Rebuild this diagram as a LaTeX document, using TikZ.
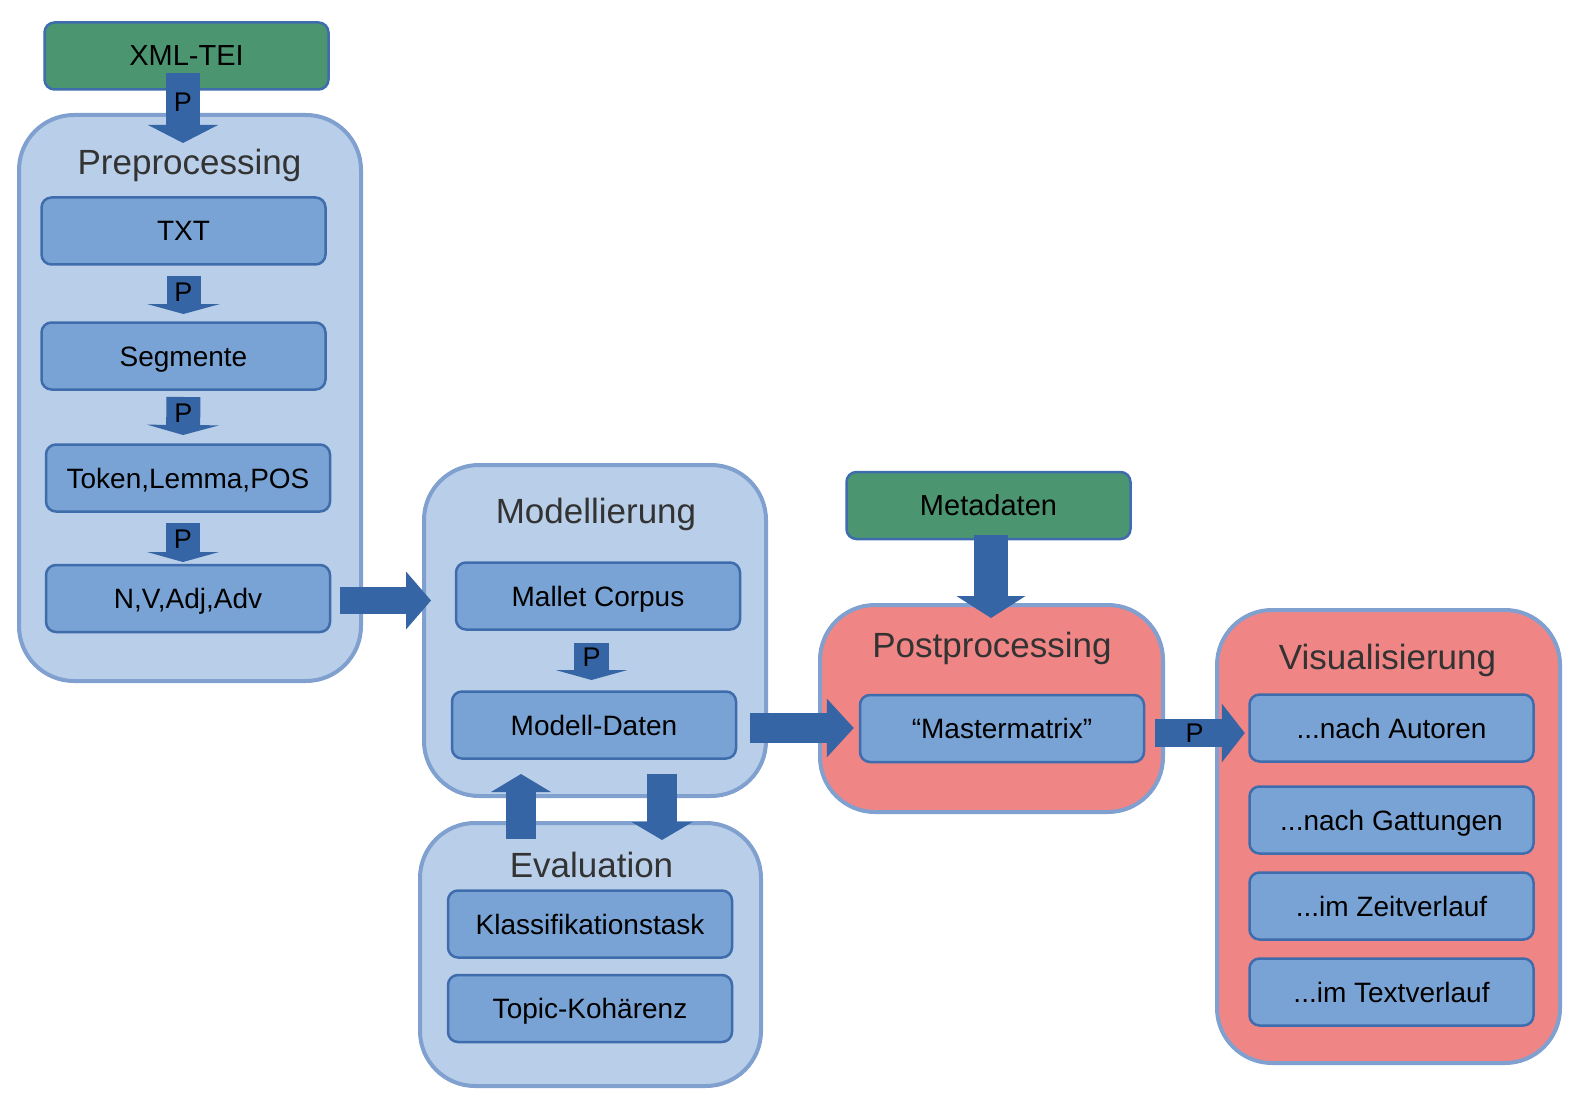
\documentclass[tikz,border=0pt]{standalone}
\usepackage{fontspec}
\setmainfont{Liberation Sans}
\usetikzlibrary{arrows.meta}

\definecolor{stageblue}{RGB}{185,206,232}
\definecolor{stagered}{RGB}{240,133,133}
\definecolor{stageline}{RGB}{128,160,208}
\definecolor{boxblue}{RGB}{121,163,212}
\definecolor{boxline}{RGB}{63,108,172}
\definecolor{sourcegreen}{RGB}{76,149,113}
\definecolor{arrowblue}{RGB}{53,101,165}
\definecolor{titlegray}{RGB}{51,51,51}

\tikzset{
    stage/.style={draw=stageline, line width=4pt, rounded corners=55pt, fill=stageblue,
        minimum width=342pt, inner sep=0pt},
    stagetitle/.style={anchor=base, text=titlegray, inner sep=0pt, font=\fontsize{35}{42}\selectfont},
    item/.style={draw=boxline, line width=2.5pt, rounded corners=10pt, fill=boxblue,
        minimum width=284pt, minimum height=67pt, inner sep=0pt,
        text height=20pt, text depth=0pt, font=\fontsize{28}{34}\selectfont},
    source/.style={item, fill=sourcegreen, font=\fontsize{29}{35}\selectfont},
    fat/.style n args={3}{draw=arrowblue, line width=#1,
        arrows={-Triangle[width=#2, length=#3, line width=0pt]}},
    plabel/.style={inner sep=0pt, font=\fontsize{27}{32}\selectfont}
}

\begin{document}
\begin{tikzpicture}[x=1pt,y=-1pt]
        \useasboundingbox (0,0) rectangle (1583,1110);

        % stages
        \node[stage, minimum height=566pt] (pre) at (190,398) {};
        \node[stage, minimum height=331pt] (mod) at (595,630.5) {};
        \node[stage, minimum height=263pt, minimum width=341pt] (eva) at (590.5,954.5) {};
        \node[stage, fill=stagered, minimum height=207pt, minimum width=343pt] (post) at (991.5,708.5) {};
        \node[stage, fill=stagered, minimum height=453pt, minimum width=343pt] (vis) at (1388.5,836.5) {};

        \node[stagetitle] (pretitle) at (189.5,175) {Preprocessing};
        \node[stagetitle] (modtitle) at (596,523) {Modellierung};
        \node[stagetitle] (evatitle) at (591.5,877) {Evaluation};
        \node[stagetitle] (posttitle) at (992,657) {Postprocessing};
        \node[stagetitle] (vistitle) at (1387.5,669) {Visualisierung};

        % sources
        \node[source] (xml) at (186.5,56) {XML-TEI};
        \node[source] (meta) at (988.5,505.5) {Metadaten};

        % items
        \node[item] (txt) at (183.5,231) {TXT};
        \node[item] (seg) at (183.5,356) {Segmente};
        \node[item] (tok) at (188,478) {Token,Lemma,POS};
        \node[item] (nva) at (188,598.5) {N,V,Adj,Adv};

        \node[item] (mallet) at (598,596) {Mallet Corpus};
        \node[item] (daten) at (594,725) {Modell-Daten};

        \node[item] (klass) at (590,924) {Klassifikationstask};
        \node[item] (topic) at (590,1008.5) {Topic-Kohärenz};

        \node[item] (master) at (1002,728.5) {“Mastermatrix”};

        \node[item] (aut) at (1391.5,728) {...nach Autoren};
        \node[item] (gat) at (1391.5,820) {...nach Gattungen};
        \node[item] (zeit) at (1391.5,906) {...im Zeitverlauf};
        \node[item] (textv) at (1391.5,992) {...im Textverlauf};

        % arrows
        \draw[fat={34pt}{70pt}{18pt}, shorten <=-17.75pt, shorten >=-30pt]
            ([xshift=-3.5pt]xml.south) -- ([xshift=-7pt]pre.north) node[plabel, pos=0.52] {P};
        \draw[fat={34pt}{73pt}{10pt}, shorten <=10.25pt, shorten >=7.25pt]
            (txt.south) -- (seg.north) node[plabel, pos=0.47] {P};
        \draw[fat={34pt}{72pt}{10pt}, shorten <=6.25pt, shorten >=8.25pt]
            (seg.south) -- ([xshift=-5pt]tok.north) node[plabel, pos=0.43] {P};
        \draw[fat={34pt}{72pt}{10pt}, shorten <=10.25pt, shorten >=1.75pt]
            ([xshift=-5pt]tok.south) -- ([xshift=-5pt]nva.north) node[plabel, pos=0.51] {P};
        \draw[fat={27pt}{58pt}{25pt}, shorten <=9pt, shorten >=-9pt]
            ([yshift=-2pt]nva.east) -- ([yshift=30pt]mod.west);

        \draw[fat={35pt}{72pt}{10pt}, shorten <=12.25pt, shorten >=10.25pt]
            ([xshift=-6.5pt]mallet.south) -- ([xshift=-2.5pt]daten.north) node[plabel, pos=0.45] {P};
        \draw[fat={30pt}{60pt}{18pt}, shorten <=-18pt, shorten >=14.25pt]
            ([xshift=-69.5pt]eva.north) -- ([xshift=-73pt]daten.south);
        \draw[fat={30pt}{61pt}{18pt}, shorten <=14.25pt, shorten >=-19pt]
            ([xshift=68pt]daten.south) -- ([xshift=71.5pt]eva.north);
        \draw[fat={30pt}{59pt}{27pt}, shorten <=13pt, shorten >=5pt]
            ([yshift=-3pt]daten.east) -- ([yshift=0.5pt]master.west);

        \draw[fat={34pt}{69pt}{22pt}, shorten <=-5.25pt, shorten >=-15pt]
            ([xshift=2.5pt]meta.south) -- ([xshift=-0.5pt]post.north);
        \draw[fat={28pt}{59pt}{23pt}, shorten <=10pt, shorten >=3.5pt]
            ([yshift=-4.5pt]master.east) -- ([yshift=-5pt]aut.west) node[plabel, pos=0.48] {P};
\end{tikzpicture}
\end{document}
